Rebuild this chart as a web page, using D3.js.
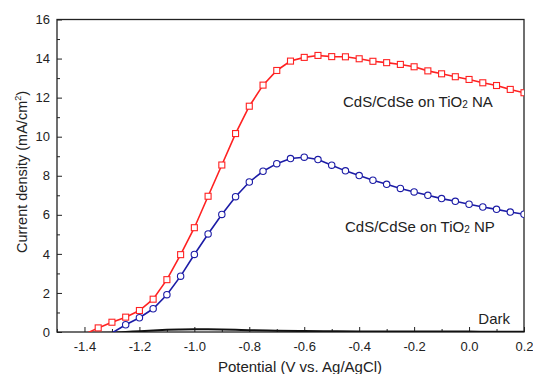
<!DOCTYPE html>
<html>
<head>
<meta charset="utf-8">
<script src="https://cdn.jsdelivr.net/npm/d3@7"></script>
<style>
  body { margin: 0; background: #fff; }
  svg { font-family: "Liberation Sans", Arial, sans-serif; }
</style>
</head>
<body>
<div id="chart"></div>
<script>
// photocurrent vs potential
const potentialNA = [-1.40, -1.35, -1.30, -1.25, -1.20, -1.15, -1.10, -1.05, -1.00, -0.95, -0.90, -0.85, -0.80, -0.75, -0.70, -0.65, -0.60,
  -0.55, -0.50, -0.45, -0.40, -0.35, -0.30, -0.25, -0.20, -0.15, -0.10, -0.05, 0.00, 0.05, 0.10, 0.15, 0.20]
const currentNA = [-0.12, 0.21, 0.50, 0.76, 1.10, 1.68, 2.68, 3.96, 5.34, 6.95, 8.55, 10.16, 11.56, 12.64, 13.39, 13.87, 14.06,
  14.16, 14.10, 14.09, 13.99, 13.86, 13.79, 13.70, 13.58, 13.37, 13.22, 13.07, 12.93, 12.76, 12.62, 12.42, 12.25]

const potentialNP = [-1.30, -1.25, -1.20, -1.15, -1.10, -1.05, -1.00, -0.95, -0.90, -0.85, -0.80, -0.75, -0.70, -0.65, -0.60,
  -0.55, -0.50, -0.45, -0.40, -0.35, -0.30, -0.25, -0.20, -0.15, -0.10, -0.05, 0.00, 0.05, 0.10, 0.15, 0.20]
const currentNP = [-0.05, 0.37, 0.73, 1.19, 1.91, 2.86, 3.97, 5.02, 6.02, 6.93, 7.68, 8.23, 8.62, 8.88, 8.95,
  8.83, 8.54, 8.25, 8.01, 7.77, 7.56, 7.35, 7.17, 7.00, 6.83, 6.69, 6.54, 6.40, 6.28, 6.14, 6.03]

const potentialDark = [-1.50, -1.40, -1.30, -1.25, -1.20, -1.15, -1.10, -1.05, -1.00, -0.95, -0.90, -0.85, -0.80, -0.70,
  -0.60, -0.50, -0.40, -0.30, -0.20, -0.10, 0.00, 0.10, 0.20]
const currentDark = [-0.05, -0.05, -0.04, 0.00, 0.04, 0.08, 0.11, 0.13, 0.14, 0.14, 0.13, 0.11, 0.09, 0.07,
  0.05, 0.04, 0.03, 0.03, 0.02, 0.02, 0.02, 0.01, 0.01]

const xTicks = [-1.4, -1.2, -1.0, -0.8, -0.6, -0.4, -0.2, 0.0, 0.2]
const xMinorTicks = [-1.5, -1.3, -1.1, -0.9, -0.7, -0.5, -0.3, -0.1, 0.1]
const yTicks = [0, 2, 4, 6, 8, 10, 12, 14, 16]
const yMinorTicks = [1, 3, 5, 7, 9, 11, 13, 15]

const width = 533
const height = 374
const margin = { top: 19.5, right: 9, bottom: 42, left: 57 }

const svg = d3.select("#chart").append("svg")
  .attr("width", width)
  .attr("height", height)

const x = d3.scaleLinear()
  .domain([-1.5, 0.2])
  .range([margin.left, width - margin.right])

const y = d3.scaleLinear()
  .domain([0, 16])
  .range([height - margin.bottom, margin.top])

svg.append("clipPath").attr("id", "plot-clip")
  .append("rect")
    .attr("x", x(-1.5))
    .attr("y", y(16))
    .attr("width", x(0.2) - x(-1.5))
    .attr("height", y(0) - y(16))

// axes, ticks point inward
const xAxis = svg.append("g")
  .attr("transform", `translate(0,${y(0)})`)
  .call(d3.axisBottom(x).tickValues(xTicks).tickSize(-5).tickPadding(10))
xAxis.select(".domain").remove()
xAxis.selectAll("text").style("font-size", "13px").attr("fill", "#222")
  .text(d => d3.format(".1f")(d).replace("−", "-"))

svg.append("g")
  .attr("transform", `translate(0,${y(0)})`)
  .call(d3.axisBottom(x).tickValues(xMinorTicks).tickFormat("").tickSize(-3))
  .select(".domain").remove()

const yAxis = svg.append("g")
  .attr("transform", `translate(${x(-1.5)},0)`)
  .call(d3.axisLeft(y).tickValues(yTicks).tickSize(-5).tickPadding(7))
yAxis.select(".domain").remove()
yAxis.selectAll("text").style("font-size", "13px").attr("fill", "#222")

svg.append("g")
  .attr("transform", `translate(${x(-1.5)},0)`)
  .call(d3.axisLeft(y).tickValues(yMinorTicks).tickFormat("").tickSize(-3))
  .select(".domain").remove()

svg.selectAll(".tick line").attr("stroke", "#222")

// frame
svg.append("rect")
  .attr("x", x(-1.5))
  .attr("y", y(16))
  .attr("width", x(0.2) - x(-1.5))
  .attr("height", y(0) - y(16))
  .attr("fill", "none")
  .attr("stroke", "#222")
  .attr("stroke-width", 1.3)

const plot = svg.append("g").attr("clip-path", "url(#plot-clip)")

function drawSeries(xs, ys, color, shape) {
  const pts = xs.map((v, i) => ({ v, j: ys[i] }))
  const line = d3.line().x(d => x(d.v)).y(d => y(d.j))
  plot.append("path")
    .datum(pts)
    .attr("d", line)
    .attr("fill", "none")
    .attr("stroke", color)
    .attr("stroke-width", 1.6)
  const shown = pts.filter(d => d.j >= 0)
  if (shape === "square") {
    plot.selectAll(null).data(shown).join("rect")
      .attr("x", d => x(d.v) - 3)
      .attr("y", d => y(d.j) - 3)
      .attr("width", 6)
      .attr("height", 6)
      .attr("fill", "#fff")
      .attr("stroke", color)
      .attr("stroke-width", 1.1)
  } else {
    plot.selectAll(null).data(shown).join("circle")
      .attr("cx", d => x(d.v))
      .attr("cy", d => y(d.j))
      .attr("r", 3.2)
      .attr("fill", "#fff")
      .attr("stroke", color)
      .attr("stroke-width", 1.1)
  }
}

plot.append("path")
  .datum(potentialDark.map((v, i) => ({ v, j: currentDark[i] })))
  .attr("d", d3.line().x(d => x(d.v)).y(d => y(d.j)).curve(d3.curveMonotoneX))
  .attr("fill", "none")
  .attr("stroke", "#111")
  .attr("stroke-width", 2)

drawSeries(potentialNP, currentNP, "#1c1ca6", "circle")
drawSeries(potentialNA, currentNA, "#ff2222", "square")

// labels
function seriesLabel(xPos, yPos, suffix) {
  const t = svg.append("text")
    .attr("x", xPos)
    .attr("y", yPos)
    .style("font-size", "15px")
    .attr("fill", "#222")
  t.append("tspan").text("CdS/CdSe on TiO")
  t.append("tspan").text("2").style("font-size", "10px").attr("dy", 1)
  t.append("tspan").text(" " + suffix).attr("dy", -1)
}
seriesLabel(343, 106.5, "NA")
seriesLabel(345, 232, "NP")

svg.append("text")
  .attr("x", 510)
  .attr("y", 324)
  .attr("text-anchor", "end")
  .style("font-size", "15px")
  .attr("fill", "#222")
  .text("Dark")

svg.append("text")
  .attr("x", 300)
  .attr("y", 372)
  .attr("text-anchor", "middle")
  .style("font-size", "15px")
  .attr("fill", "#222")
  .text("Potential (V vs. Ag/AgCl)")

const yTitle = svg.append("text")
  .attr("transform", `translate(26.5,172) rotate(-90)`)
  .attr("text-anchor", "middle")
  .style("font-size", "14.5px")
  .attr("fill", "#222")
yTitle.append("tspan").text("Current density (mA/cm")
yTitle.append("tspan").text("2").style("font-size", "9px").attr("dy", -6)
yTitle.append("tspan").text(")").attr("dy", 6)
</script>
</body>
</html>
